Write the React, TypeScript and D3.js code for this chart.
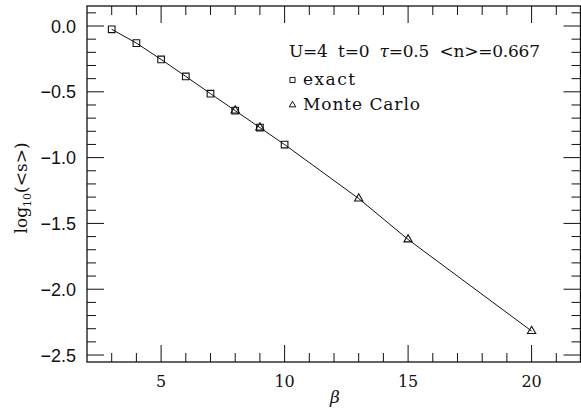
import React from "react";
import * as d3 from "d3";

// Exact diagonalization points and Monte Carlo points: beta vs log10(<s>)
const exactBeta = [3, 4, 5, 6, 7, 8, 9, 10];
const exactLogS = [-0.025, -0.13, -0.254, -0.383, -0.514, -0.643, -0.772, -0.901];
const mcBeta = [8, 9, 13, 15, 20];
const mcLogS = [-0.643, -0.772, -1.311, -1.622, -2.318];

const xMajorTicks = [5, 10, 15, 20];
const yMajorTicks = [0, -0.5, -1, -1.5, -2, -2.5];
const yTickLabels = ["0.0", "\u22120.5", "\u22121.0", "\u22121.5", "\u22122.0", "\u22122.5"];

const W = 581;
const H = 410;
const left = 87;
const right = 580.5;
const top = 6;
const bottom = 362;

export default function App() {
  const x = d3.scaleLinear().domain([2, 22]).range([left, left + 494]);
  const y = d3.scaleLinear().domain([-2.553, 0.152]).range([bottom, top]);

  const xMinor = d3.range(3, 22, 1).filter((v) => v % 5 !== 0);
  const yMinor = d3.range(-25, 2, 1).map((v) => v / 10).filter((v) => Math.round(v * 10) % 5 !== 0);

  // combined curve through all points
  const curvePts: [number, number][] = [];
  exactBeta.forEach((b, i) => curvePts.push([b, exactLogS[i]]));
  mcBeta.forEach((b, i) => {
    if (!exactBeta.includes(b)) curvePts.push([b, mcLogS[i]]);
  });
  curvePts.sort((a, b) => a[0] - b[0]);
  const line = d3
    .line<[number, number]>()
    .x((d) => x(d[0]))
    .y((d) => y(d[1]));

  const sq = d3.symbol(d3.symbolSquare, 44)();
  const tri = d3.symbol(d3.symbolTriangle, 30)();
  const sqSmall = d3.symbol(d3.symbolSquare, 26)();
  const triSmall = d3.symbol(d3.symbolTriangle, 18)();

  const majLen = 17;
  const minLen = 9;
  const ink = "#111";

  return (
    <svg
      width={W}
      height={H}
      style={{ position: "fixed", left: 0, top: 0, background: "#fff" }}
    >
      <rect x={0} y={0} width={W} height={H} fill="#fff" />
      {/* frame */}
      <rect
        x={left}
        y={top}
        width={right - left}
        height={bottom - top}
        fill="none"
        stroke={ink}
        strokeWidth={1.3}
      />
      {/* x ticks, bottom and top */}
      {xMajorTicks.map((v) => (
        <g key={"xM" + v}>
          <line x1={x(v)} x2={x(v)} y1={bottom} y2={bottom - majLen} stroke={ink} strokeWidth={1} />
          <line x1={x(v)} x2={x(v)} y1={top} y2={top + majLen} stroke={ink} strokeWidth={1} />
          <text
            x={x(v)}
            y={387}
            textAnchor="middle"
            fontFamily="'DejaVu Serif', serif"
            fontSize={16}
            fill={ink}
          >
            {v}
          </text>
        </g>
      ))}
      {xMinor.map((v) => (
        <g key={"xm" + v}>
          <line x1={x(v)} x2={x(v)} y1={bottom} y2={bottom - minLen} stroke={ink} strokeWidth={1} />
          <line x1={x(v)} x2={x(v)} y1={top} y2={top + minLen} stroke={ink} strokeWidth={1} />
        </g>
      ))}
      {/* y ticks, left and right */}
      {yMajorTicks.map((v, i) => (
        <g key={"yM" + v}>
          <line x1={left} x2={left + majLen} y1={y(v)} y2={y(v)} stroke={ink} strokeWidth={1} />
          <line x1={right} x2={right - majLen} y1={y(v)} y2={y(v)} stroke={ink} strokeWidth={1} />
          <text
            x={76}
            y={y(v) + 6.5}
            textAnchor="end"
            fontFamily="'Liberation Sans', Arial, sans-serif"
            fontSize={18}
            fill={ink}
          >
            {yTickLabels[i]}
          </text>
        </g>
      ))}
      {yMinor.map((v) => (
        <g key={"ym" + v}>
          <line x1={left} x2={left + minLen} y1={y(v)} y2={y(v)} stroke={ink} strokeWidth={1} />
          <line x1={right} x2={right - minLen} y1={y(v)} y2={y(v)} stroke={ink} strokeWidth={1} />
        </g>
      ))}

      {/* curve */}
      <path d={line(curvePts) || ""} fill="none" stroke={ink} strokeWidth={1} />

      {/* exact points */}
      {exactBeta.map((b, i) => (
        <path
          key={"e" + b}
          d={sq || ""}
          transform={`translate(${x(b)},${y(exactLogS[i])})`}
          fill="none"
          stroke={ink}
          strokeWidth={1.1}
        />
      ))}
      {/* Monte Carlo points */}
      {mcBeta.map((b, i) => (
        <path
          key={"m" + b}
          d={tri || ""}
          transform={`translate(${x(b)},${y(mcLogS[i])})`}
          fill="none"
          stroke={ink}
          strokeWidth={1.1}
        />
      ))}

      {/* legend */}
      <text
        x={289}
        y={57}
        fontFamily="'DejaVu Serif', serif"
        fontSize={17}
        fill={ink}
        textLength={251}
        lengthAdjust="spacing"
        style={{ whiteSpace: "pre" }}
      >
        {"U=4  t=0  "}
        <tspan fontStyle="italic">τ</tspan>
        {"=0.5  <n>=0.667"}
      </text>
      <path d={sqSmall || ""} transform="translate(292.5,80)" fill="none" stroke={ink} strokeWidth={1} />
      <text
        x={303}
        y={85}
        fontFamily="'DejaVu Serif', serif"
        fontSize={17}
        fill={ink}
        textLength={52}
        lengthAdjust="spacing"
      >
        exact
      </text>
      <path d={triSmall || ""} transform="translate(292.5,105)" fill="none" stroke={ink} strokeWidth={1} />
      <text
        x={303}
        y={110}
        fontFamily="'DejaVu Serif', serif"
        fontSize={17}
        fill={ink}
        textLength={117}
        lengthAdjust="spacing"
      >
        Monte Carlo
      </text>

      {/* axis titles */}
      <text
        x={335}
        y={403}
        textAnchor="middle"
        fontFamily="'DejaVu Serif', serif"
        fontStyle="italic"
        fontSize={17}
        fill={ink}
      >
        β
      </text>
      <text
        transform="translate(27,188) rotate(-90)"
        textAnchor="middle"
        fontFamily="'DejaVu Serif', serif"
        fontSize={17}
        fill={ink}
      >
        log<tspan fontSize={11} dy={4}>10</tspan>
        <tspan dy={-4}>(&lt;s&gt;)</tspan>
      </text>
    </svg>
  );
}
